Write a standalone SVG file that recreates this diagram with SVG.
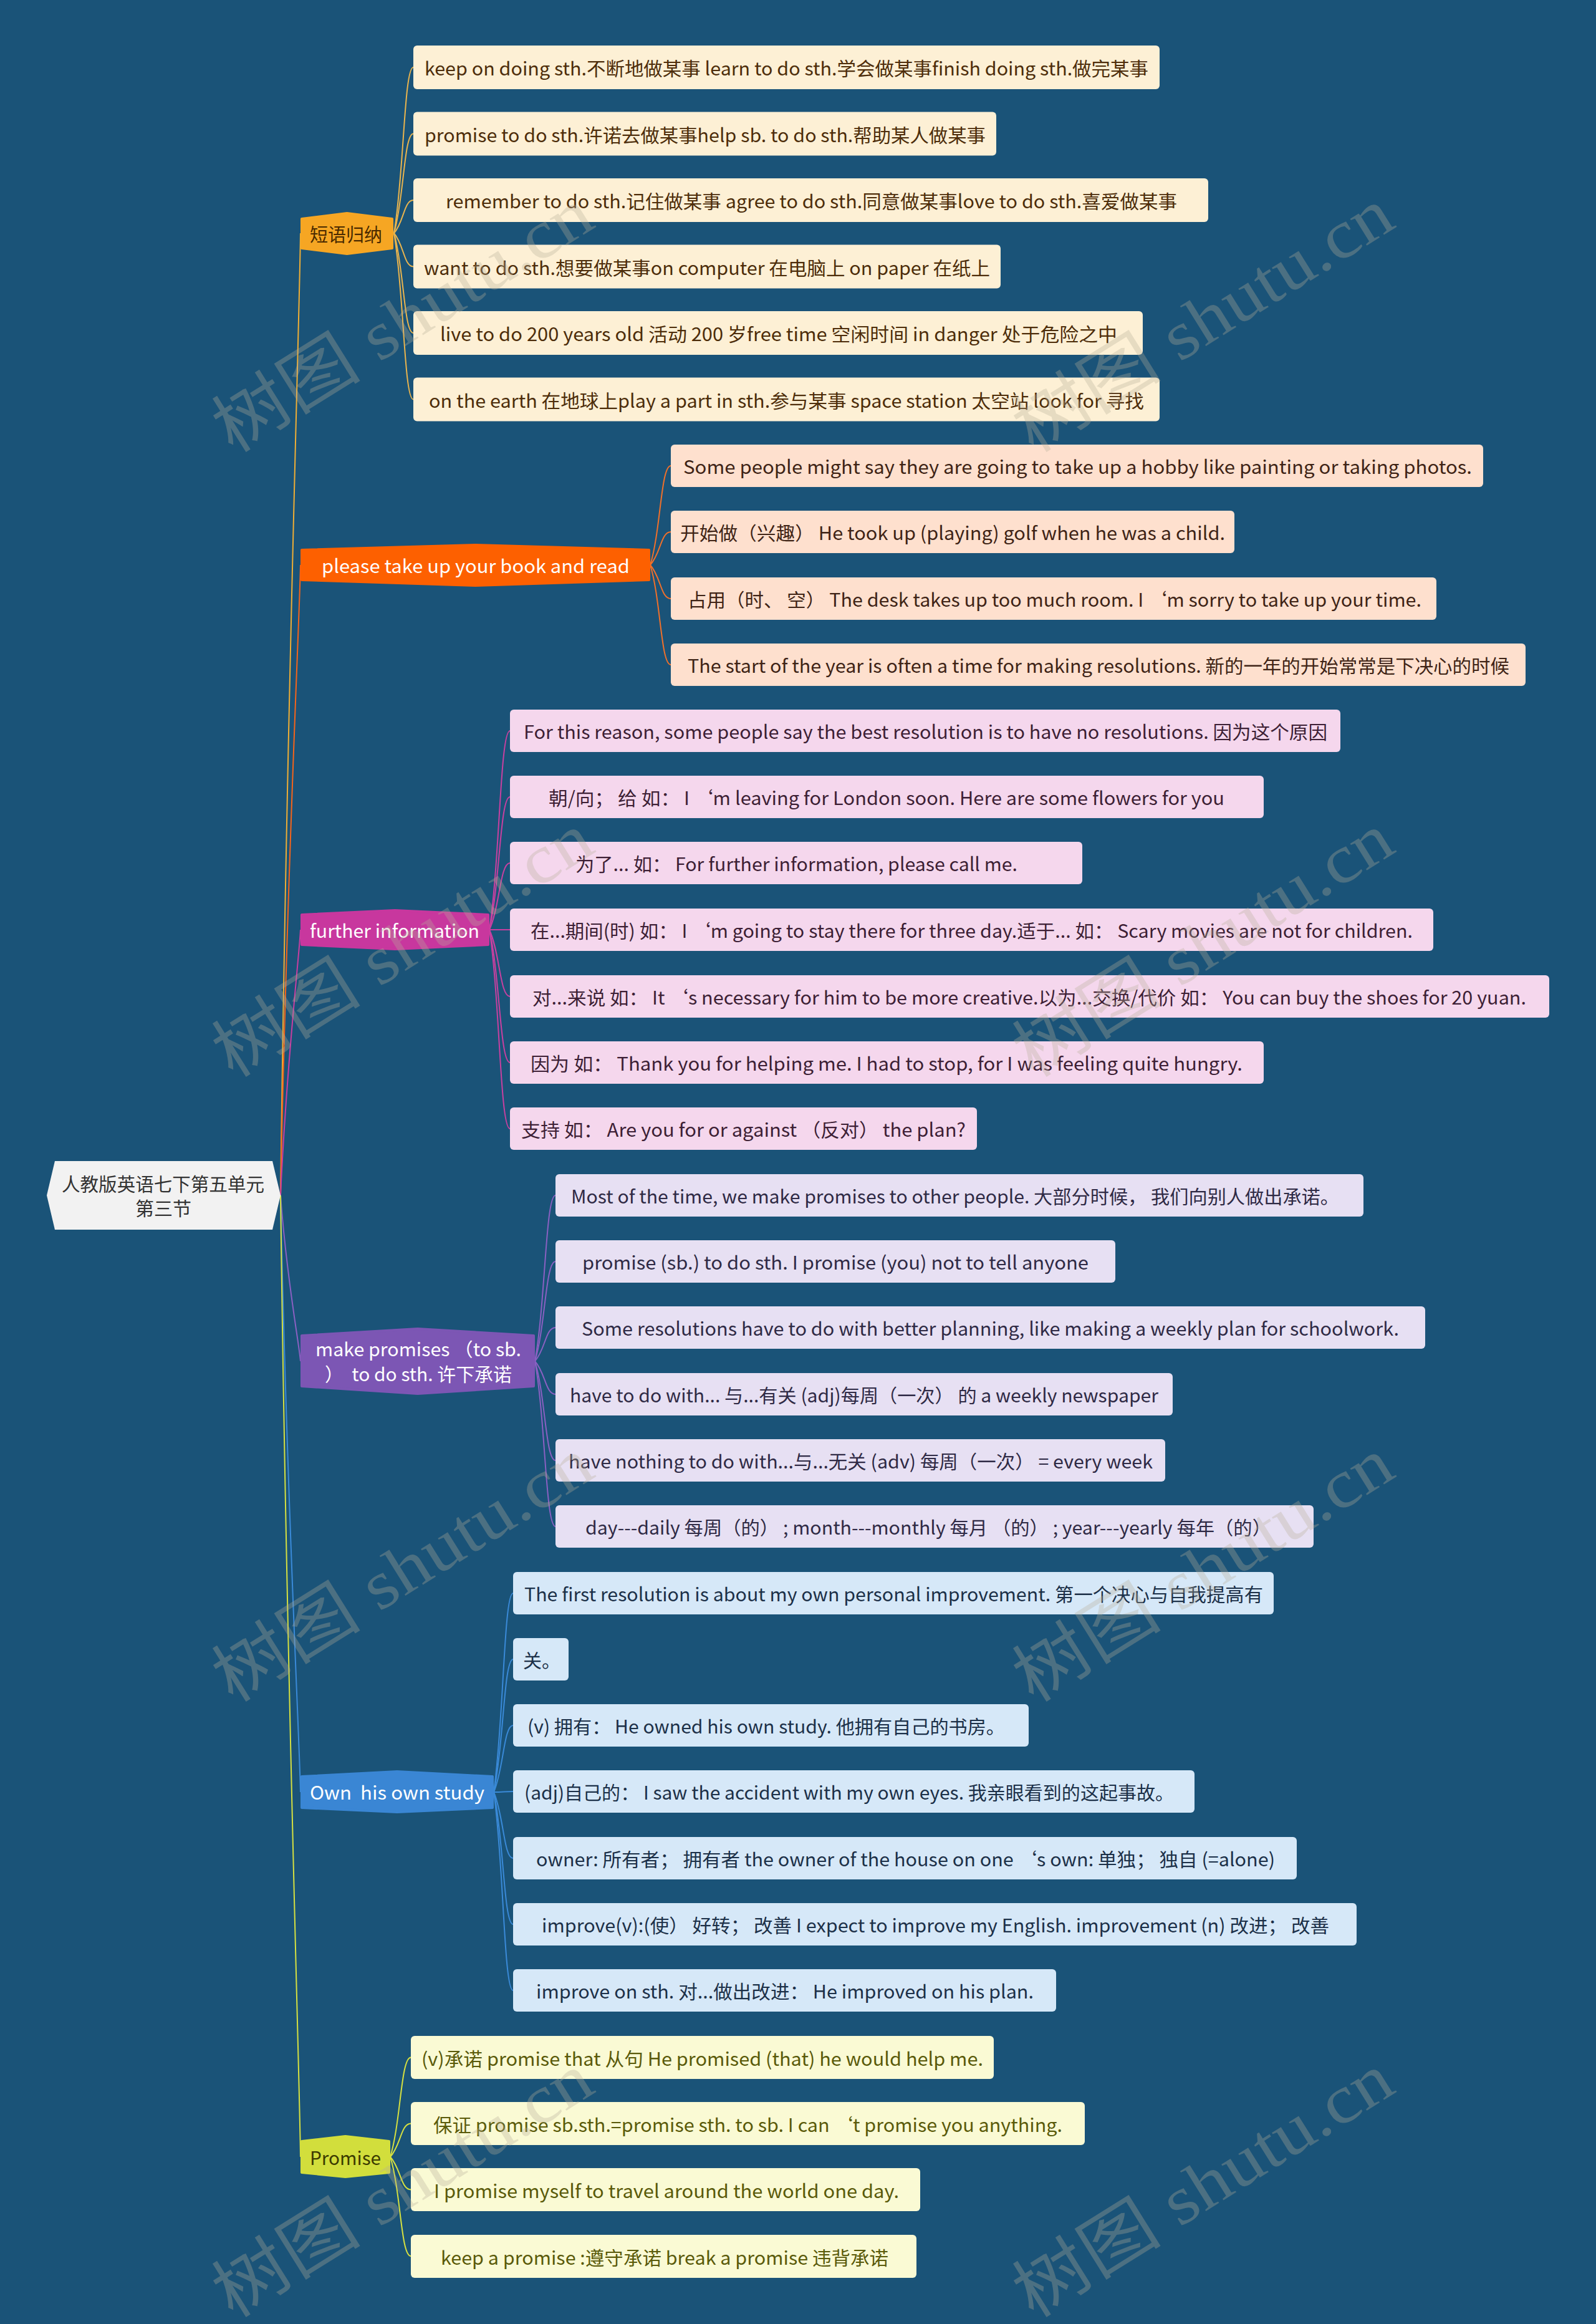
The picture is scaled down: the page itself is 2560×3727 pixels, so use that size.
<svg xmlns="http://www.w3.org/2000/svg" width="2560" height="3727" viewBox="0 0 2560 3727">
<style>
text{font-family:'Noto Sans CJK SC','Noto Sans',sans-serif;font-size:30px;dominant-baseline:central;white-space:pre}
.c{fill:none;stroke-width:2}
.leaf rect{stroke:none}
.b1 .box{fill:#fdf0d5}.b1 text{fill:#4d2d0a}
.b2 .box{fill:#fee0ce}.b2 text{fill:#3f2416}
.b3 .box{fill:#f5d7ed}.b3 text{fill:#3d1f35}
.b4 .box{fill:#e7e0f3}.b4 text{fill:#2f2a45}
.b5 .box{fill:#d6e8f8}.b5 text{fill:#1c3048}
.b6 .box{fill:#fafad4}.b6 text{fill:#5a5a0a}
.wm{font-family:'Liberation Serif','Noto Sans CJK SC',serif;font-size:110px;fill:#b8ad98;fill-opacity:0.32;text-anchor:middle}
</style>
<rect width="2560" height="3727" fill="#1a5378"/>

<g id="connectors">
  <path class="c" stroke="#efae35" d="M450 1917 C459.6 1145.5 480 528.3 482 374"/>
  <path class="c" stroke="#f6641a" d="M450 1917 C459.6 1411.5 480 1007 482 906"/>
  <path class="c" stroke="#c83ea0" d="M450 1917 C459.6 1704 480 1533.6 482 1491"/>
  <path class="c" stroke="#8a60c2" d="M450 1917 C459.6 2050 480 2156.4 482 2183"/>
  <path class="c" stroke="#3a8ad8" d="M450 1917 C459.6 2395.5 480 2778.3 482 2874"/>
  <path class="c" stroke="#d6e040" d="M450 1917 C459.6 2688 480 3304.8 482 3459"/>

  <g stroke="#e9b44e">
    <path class="c" d="M632 374 C648 281 648 108 663 108"/>
    <path class="c" d="M632 374 C648 318 648 214.5 663 214.5"/>
    <path class="c" d="M632 374 C648 355.5 648 321 663 321"/>
    <path class="c" d="M632 374 C648 392.7 648 427.5 663 427.5"/>
    <path class="c" d="M632 374 C648 430 648 534 663 534"/>
    <path class="c" d="M632 374 C648 467 648 640.5 663 640.5"/>
  </g>
  <g stroke="#f0702a">
    <path class="c" d="M1043 906 C1060 850 1060 747 1076 747"/>
    <path class="c" d="M1043 906 C1060 887.5 1060 853 1076 853"/>
    <path class="c" d="M1043 906 C1060 925 1060 960 1076 960"/>
    <path class="c" d="M1043 906 C1060 962 1060 1066 1076 1066"/>
  </g>
  <g stroke="#c840a0">
    <path class="c" d="M785 1491 C802 1379 802 1172 818 1172"/>
    <path class="c" d="M785 1491 C802 1416.5 802 1278 818 1278"/>
    <path class="c" d="M785 1491 C802 1453.5 802 1384 818 1384"/>
    <path class="c" d="M785 1491 L818 1491"/>
    <path class="c" d="M785 1491 C802 1528.5 802 1598 818 1598"/>
    <path class="c" d="M785 1491 C802 1565.5 802 1704 818 1704"/>
    <path class="c" d="M785 1491 C802 1602.6 802 1810 818 1810"/>
  </g>
  <g stroke="#8a60c2">
    <path class="c" d="M858 2183 C875 2090 875 1917 891 1917"/>
    <path class="c" d="M858 2183 C875 2127 875 2023 891 2023"/>
    <path class="c" d="M858 2183 C875 2164 875 2129 891 2129"/>
    <path class="c" d="M858 2183 C875 2201.5 875 2236 891 2236"/>
    <path class="c" d="M858 2183 C875 2238.6 875 2342 891 2342"/>
    <path class="c" d="M858 2183 C875 2275.8 875 2448 891 2448"/>
  </g>
  <g stroke="#3a8ad8">
    <path class="c" d="M792 2874 C808 2762.4 808 2555 823 2555"/>
    <path class="c" d="M792 2874 C808 2799.5 808 2661 823 2661"/>
    <path class="c" d="M792 2874 C808 2836.5 808 2767 823 2767"/>
    <path class="c" d="M792 2874 C808 2874 808 2873 823 2873"/>
    <path class="c" d="M792 2874 C808 2911 808 2980 823 2980"/>
    <path class="c" d="M792 2874 C808 2948 808 3086 823 3086"/>
    <path class="c" d="M792 2874 C808 2985 808 3192 823 3192"/>
  </g>
  <g stroke="#d6e040">
    <path class="c" d="M626 3459 C643 3403 643 3299.5 659 3299.5"/>
    <path class="c" d="M626 3459 C643 3440.3 643 3405.5 659 3405.5"/>
    <path class="c" d="M626 3459 C643 3477.4 643 3511.5 659 3511.5"/>
    <path class="c" d="M626 3459 C643 3514.6 643 3618 659 3618"/>
  </g>
</g>

<g id="root">
  <polygon points="450,1917 437,1862 88,1862 75,1917 88,1972 437,1972" fill="#f2f2f2"/>
  <text x="99" y="1897" textLength="325" lengthAdjust="spacingAndGlyphs" fill="#333333">人教版英语七下第五单元</text>
  <text x="217" y="1936" textLength="90" lengthAdjust="spacingAndGlyphs" fill="#333333">第三节</text>
</g>

<g id="branch-1">
  <polygon points="484,351 556.5,342 629,351 629,398 556.5,407 484,398" fill="#f6a623" stroke="#f6a623" stroke-width="4" stroke-linejoin="round"/>
  <text x="497" y="374" textLength="116" lengthAdjust="spacingAndGlyphs" fill="#4a2a00">短语归纳</text>
</g>
<g id="branch-2">
  <polygon points="484,882 762.5,874 1041,882 1041,930 762.5,939 484,930" fill="#fd6000" stroke="#fd6000" stroke-width="4" stroke-linejoin="round"/>
  <text x="516" y="906" textLength="494" lengthAdjust="spacingAndGlyphs" fill="#ffffff">please take up your book and read</text>
</g>
<g id="branch-3">
  <polygon points="484,1467 633.5,1460 783,1467 783,1515 633.5,1522 484,1515" fill="#c8379e" stroke="#c8379e" stroke-width="4" stroke-linejoin="round"/>
  <text x="497" y="1491" textLength="272" lengthAdjust="spacingAndGlyphs" fill="#ffffff">further information</text>
</g>
<g id="branch-4">
  <polygon points="484,2142 670,2131 856,2142 856,2223 670,2235 484,2223" fill="#7c56b4" stroke="#7c56b4" stroke-width="4" stroke-linejoin="round"/>
  <text x="506" y="2162" textLength="330" lengthAdjust="spacingAndGlyphs" fill="#ffffff">make promises （to sb.</text>
  <text x="521" y="2202" textLength="300" lengthAdjust="spacingAndGlyphs" fill="#ffffff">）  to do sth. 许下承诺</text>
</g>
<g id="branch-5">
  <polygon points="484,2849 637,2841 790,2849 790,2899 637,2906 484,2899" fill="#3a86d4" stroke="#3a86d4" stroke-width="4" stroke-linejoin="round"/>
  <text x="497" y="2873" textLength="280" lengthAdjust="spacingAndGlyphs" fill="#ffffff">Own  his own study</text>
</g>
<g id="branch-6">
  <polygon points="484,3434 554,3426 624,3434 624,3484 554,3491 484,3484" fill="#d2de3c" stroke="#d2de3c" stroke-width="4" stroke-linejoin="round"/>
  <text x="497" y="3459" textLength="114" lengthAdjust="spacingAndGlyphs" fill="#3b3b00">Promise</text>
</g>

<g class="b1">
  <g id="leaf-1-1" class="leaf"><rect class="box" x="663" y="73" width="1197" height="70" rx="6"/><text x="681" y="108" textLength="1161" lengthAdjust="spacingAndGlyphs">keep on doing sth.不断地做某事 learn to do sth.学会做某事finish doing sth.做完某事</text></g>
  <g id="leaf-1-2" class="leaf"><rect class="box" x="663" y="179.5" width="935" height="70" rx="6"/><text x="681" y="214.5" textLength="900" lengthAdjust="spacingAndGlyphs">promise to do sth.许诺去做某事help sb. to do sth.帮助某人做某事</text></g>
  <g id="leaf-1-3" class="leaf"><rect class="box" x="663" y="286" width="1275" height="70" rx="6"/><text x="715" y="321" textLength="1173" lengthAdjust="spacingAndGlyphs">remember to do sth.记住做某事 agree to do sth.同意做某事love to do sth.喜爱做某事</text></g>
  <g id="leaf-1-4" class="leaf"><rect class="box" x="663" y="392.5" width="942" height="70" rx="6"/><text x="680" y="427.5" textLength="908" lengthAdjust="spacingAndGlyphs">want to do sth.想要做某事on computer 在电脑上 on paper 在纸上</text></g>
  <g id="leaf-1-5" class="leaf"><rect class="box" x="663" y="499" width="1170" height="70" rx="6"/><text x="706" y="534" textLength="1086" lengthAdjust="spacingAndGlyphs">live to do 200 years old 活动 200 岁free time 空闲时间 in danger 处于危险之中</text></g>
  <g id="leaf-1-6" class="leaf"><rect class="box" x="663" y="605.5" width="1197" height="70" rx="6"/><text x="688" y="640.5" textLength="1147" lengthAdjust="spacingAndGlyphs">on the earth 在地球上play a part in sth.参与某事 space station 太空站 look for 寻找</text></g>
</g>

<g class="b2">
  <g id="leaf-2-1" class="leaf"><rect class="box" x="1076" y="713" width="1303" height="68" rx="6"/><text x="1096" y="747" textLength="1265" lengthAdjust="spacingAndGlyphs">Some people might say they are going to take up a hobby like painting or taking photos.</text></g>
  <g id="leaf-2-2" class="leaf"><rect class="box" x="1076" y="819" width="904" height="68" rx="6"/><text x="1091" y="853" textLength="874" lengthAdjust="spacingAndGlyphs">开始做（兴趣） He took up (playing) golf when he was a child.</text></g>
  <g id="leaf-2-3" class="leaf"><rect class="box" x="1076" y="926" width="1228" height="68" rx="6"/><text x="1103" y="960" textLength="1177" lengthAdjust="spacingAndGlyphs">占用（时、 空） The desk takes up too much room. I ‘m sorry to take up your time.</text></g>
  <g id="leaf-2-4" class="leaf"><rect class="box" x="1076" y="1032" width="1371" height="68" rx="6"/><text x="1103" y="1066" textLength="1318" lengthAdjust="spacingAndGlyphs">The start of the year is often a time for making resolutions. 新的一年的开始常常是下决心的时候</text></g>
</g>

<g class="b3">
  <g id="leaf-3-1" class="leaf"><rect class="box" x="818" y="1138" width="1332" height="68" rx="6"/><text x="840" y="1172" textLength="1289" lengthAdjust="spacingAndGlyphs">For this reason, some people say the best resolution is to have no resolutions. 因为这个原因</text></g>
  <g id="leaf-3-2" class="leaf"><rect class="box" x="818" y="1244" width="1209" height="68" rx="6"/><text x="880" y="1278" textLength="1084" lengthAdjust="spacingAndGlyphs">朝/向； 给 如： I ‘m leaving for London soon. Here are some flowers for you</text></g>
  <g id="leaf-3-3" class="leaf"><rect class="box" x="818" y="1350" width="918" height="68" rx="6"/><text x="923" y="1384" textLength="709" lengthAdjust="spacingAndGlyphs">为了... 如： For further information, please call me.</text></g>
  <g id="leaf-3-4" class="leaf"><rect class="box" x="818" y="1457" width="1481" height="68" rx="6"/><text x="851" y="1491" textLength="1415" lengthAdjust="spacingAndGlyphs">在...期间(时) 如： I ‘m going to stay there for three day.适于... 如： Scary movies are not for children.</text></g>
  <g id="leaf-3-5" class="leaf"><rect class="box" x="818" y="1564" width="1667" height="68" rx="6"/><text x="854" y="1598" textLength="1594" lengthAdjust="spacingAndGlyphs">对...来说 如： It ‘s necessary for him to be more creative.以为...交换/代价 如： You can buy the shoes for 20 yuan.</text></g>
  <g id="leaf-3-6" class="leaf"><rect class="box" x="818" y="1670" width="1209" height="68" rx="6"/><text x="851" y="1704" textLength="1142" lengthAdjust="spacingAndGlyphs">因为 如： Thank you for helping me. I had to stop, for I was feeling quite hungry.</text></g>
  <g id="leaf-3-7" class="leaf"><rect class="box" x="818" y="1776" width="749" height="68" rx="6"/><text x="836" y="1810" textLength="713" lengthAdjust="spacingAndGlyphs">支持 如： Are you for or against （反对） the plan?</text></g>
</g>

<g class="b4">
  <g id="leaf-4-1" class="leaf"><rect class="box" x="891" y="1883" width="1296" height="68" rx="6"/><text x="916" y="1917" textLength="1232" lengthAdjust="spacingAndGlyphs">Most of the time, we make promises to other people. 大部分时候， 我们向别人做出承诺。</text></g>
  <g id="leaf-4-2" class="leaf"><rect class="box" x="891" y="1989" width="898" height="68" rx="6"/><text x="934" y="2023" textLength="812" lengthAdjust="spacingAndGlyphs">promise (sb.) to do sth. I promise (you) not to tell anyone</text></g>
  <g id="leaf-4-3" class="leaf"><rect class="box" x="891" y="2095" width="1395" height="68" rx="6"/><text x="933" y="2129" textLength="1311" lengthAdjust="spacingAndGlyphs">Some resolutions have to do with better planning, like making a weekly plan for schoolwork.</text></g>
  <g id="leaf-4-4" class="leaf"><rect class="box" x="891" y="2202" width="990" height="68" rx="6"/><text x="914" y="2236" textLength="944" lengthAdjust="spacingAndGlyphs">have to do with... 与...有关 (adj)每周（一次） 的 a weekly newspaper</text></g>
  <g id="leaf-4-5" class="leaf"><rect class="box" x="891" y="2308" width="978" height="68" rx="6"/><text x="912" y="2342" textLength="937" lengthAdjust="spacingAndGlyphs">have nothing to do with...与...无关 (adv) 每周（一次） = every week</text></g>
  <g id="leaf-4-6" class="leaf"><rect class="box" x="891" y="2414" width="1216" height="68" rx="6"/><text x="939" y="2448" textLength="1100" lengthAdjust="spacingAndGlyphs">day---daily 每周（的） ; month---monthly 每月 （的） ; year---yearly 每年（的）</text></g>
</g>

<g class="b5">
  <g id="leaf-5-1" class="leaf"><rect class="box" x="823" y="2521" width="1220" height="68" rx="6"/><text x="841" y="2555" textLength="1185" lengthAdjust="spacingAndGlyphs">The first resolution is about my own personal improvement. 第一个决心与自我提高有</text></g>
  <g id="leaf-5-2" class="leaf"><rect class="box" x="823" y="2627" width="89" height="68" rx="6"/><text x="839" y="2661">关。</text></g>
  <g id="leaf-5-3" class="leaf"><rect class="box" x="823" y="2733" width="827" height="68" rx="6"/><text x="846" y="2767" textLength="766" lengthAdjust="spacingAndGlyphs">(v) 拥有： He owned his own study. 他拥有自己的书房。</text></g>
  <g id="leaf-5-4" class="leaf"><rect class="box" x="823" y="2839" width="1093" height="68" rx="6"/><text x="841" y="2873" textLength="1042" lengthAdjust="spacingAndGlyphs">(adj)自己的： I saw the accident with my own eyes. 我亲眼看到的这起事故。</text></g>
  <g id="leaf-5-5" class="leaf"><rect class="box" x="823" y="2946" width="1257" height="68" rx="6"/><text x="860" y="2980" textLength="1185" lengthAdjust="spacingAndGlyphs">owner: 所有者； 拥有者 the owner of the house on one ‘s own: 单独； 独自 (=alone)</text></g>
  <g id="leaf-5-6" class="leaf"><rect class="box" x="823" y="3052" width="1353" height="68" rx="6"/><text x="869" y="3086" textLength="1263" lengthAdjust="spacingAndGlyphs">improve(v):(使） 好转； 改善 I expect to improve my English. improvement (n) 改进； 改善</text></g>
  <g id="leaf-5-7" class="leaf"><rect class="box" x="823" y="3158" width="871" height="68" rx="6"/><text x="860" y="3192" textLength="798" lengthAdjust="spacingAndGlyphs">improve on sth. 对...做出改进： He improved on his plan.</text></g>
</g>

<g class="b6">
  <g id="leaf-6-1" class="leaf"><rect class="box" x="659" y="3265" width="935" height="69" rx="6"/><text x="676" y="3299.5" textLength="901" lengthAdjust="spacingAndGlyphs">(v)承诺 promise that 从句 He promised (that) he would help me.</text></g>
  <g id="leaf-6-2" class="leaf"><rect class="box" x="659" y="3371" width="1081" height="69" rx="6"/><text x="695" y="3405.5" textLength="1009" lengthAdjust="spacingAndGlyphs">保证 promise sb.sth.=promise sth. to sb. I can ‘t promise you anything.</text></g>
  <g id="leaf-6-3" class="leaf"><rect class="box" x="659" y="3477" width="817" height="69" rx="6"/><text x="696" y="3511.5" textLength="746" lengthAdjust="spacingAndGlyphs">I promise myself to travel around the world one day.</text></g>
  <g id="leaf-6-4" class="leaf"><rect class="box" x="659" y="3584" width="811" height="69" rx="6"/><text x="707" y="3618.5" textLength="718" lengthAdjust="spacingAndGlyphs">keep a promise :遵守承诺 break a promise 违背承诺</text></g>
</g>

<g id="watermark">
  <text class="wm" x="646" y="514" textLength="690" lengthAdjust="spacingAndGlyphs" transform="rotate(-32 646 514)">树图 shutu.cn</text>
  <text class="wm" x="1930" y="514" textLength="690" lengthAdjust="spacingAndGlyphs" transform="rotate(-32 1930 514)">树图 shutu.cn</text>
  <text class="wm" x="646" y="1516" textLength="690" lengthAdjust="spacingAndGlyphs" transform="rotate(-32 646 1516)">树图 shutu.cn</text>
  <text class="wm" x="1930" y="1516" textLength="690" lengthAdjust="spacingAndGlyphs" transform="rotate(-32 1930 1516)">树图 shutu.cn</text>
  <text class="wm" x="646" y="2518" textLength="690" lengthAdjust="spacingAndGlyphs" transform="rotate(-32 646 2518)">树图 shutu.cn</text>
  <text class="wm" x="1930" y="2518" textLength="690" lengthAdjust="spacingAndGlyphs" transform="rotate(-32 1930 2518)">树图 shutu.cn</text>
  <text class="wm" x="646" y="3505" textLength="690" lengthAdjust="spacingAndGlyphs" transform="rotate(-32 646 3505)">树图 shutu.cn</text>
  <text class="wm" x="1930" y="3505" textLength="690" lengthAdjust="spacingAndGlyphs" transform="rotate(-32 1930 3505)">树图 shutu.cn</text>
</g>
</svg>
